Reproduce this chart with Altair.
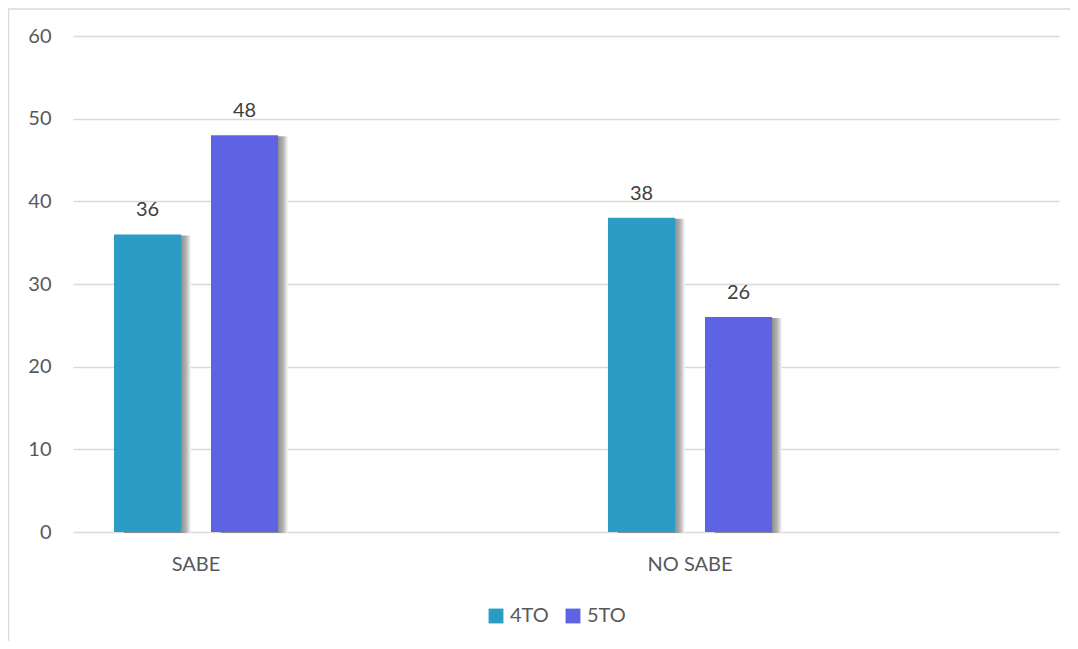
import altair as alt
import pandas as pd

categories = ["SABE", "NO SABE"]
series = ["4TO", "5TO"]
values_4to = [36, 38]
values_5to = [48, 26]
colors = ["#2B9CC4", "#5E63E3"]

rows = []
for i, c in enumerate(categories):
    rows.append({"cat": c, "serie": "4TO", "val": values_4to[i]})
    rows.append({"cat": c, "serie": "5TO", "val": values_5to[i]})
df = pd.DataFrame(rows)

FONT = "Lato"
W, H = 986, 496

x_enc = alt.X("cat:N", sort=categories, title=None,
              scale=alt.Scale(type="band", paddingInner=0.502, paddingOuter=0.249, align=0),
              axis=alt.Axis(labelAngle=0, ticks=False, domain=False, labelPadding=22,
                            labelFont=FONT, labelFontSize=20, labelColor="#595959"))
xo_enc = alt.XOffset("serie:N", sort=series,
                     scale=alt.Scale(type="band", paddingInner=0.309, paddingOuter=0.4225))
xo_shadow = alt.XOffset("serie:N", sort=series,
                        scale=alt.Scale(type="band", paddingInner=0.309, paddingOuter=0.4225,
                                        align=0.62))
y_enc = alt.Y("val:Q", title=None,
              scale=alt.Scale(domain=[0, 60], nice=False),
              axis=alt.Axis(values=[0, 10, 20, 30, 40, 50, 60], ticks=False, domain=False,
                            gridColor="#D9D9D9", gridWidth=1.3, labelPadding=22,
                            labelFont=FONT, labelFontSize=20, labelColor="#595959"))

base = alt.Chart(df)

shadow = base.mark_bar(
    yOffset=1,
    fill=alt.Gradient(gradient="linear", x1=0, x2=1, y1=0, y2=0,
                      stops=[alt.GradientStop(offset=0, color="#8c8c8c"),
                             alt.GradientStop(offset=0.85, color="#8c8c8c"),
                             alt.GradientStop(offset=0.93, color="#b4b4b4"),
                             alt.GradientStop(offset=1, color="#f8f8f8")]),
).encode(x=x_enc, xOffset=xo_shadow, y=y_enc)

bars = base.mark_bar().encode(
    x=x_enc, xOffset=xo_enc, y=y_enc,
    color=alt.Color("serie:N", sort=series,
                    scale=alt.Scale(domain=series, range=colors),
                    legend=alt.Legend(title=None, orient="none", direction="horizontal",
                                      legendX=413, legendY=570,
                                      symbolType="square", symbolSize=220,
                                      symbolStrokeWidth=0, symbolOpacity=1,
                                      labelFont=FONT, labelFontSize=20, labelColor="#595959",
                                      columnPadding=14, labelOffset=4)),
)

labels = base.mark_text(font=FONT, fontSize=20, color="#404040",
                        baseline="alphabetic", dy=-18).encode(
    x=x_enc, xOffset=xo_enc, y=y_enc, text="val:Q")

frame = alt.Chart(pd.DataFrame({"k": [0]})).mark_rect(
    fill=None, stroke="#D9D9D9", strokeWidth=1.5
).encode(x=alt.value(-64.5), x2=alt.value(1004), y=alt.value(-27), y2=alt.value(640))

chart = alt.layer(frame, shadow, bars, labels).resolve_scale(
    xOffset="independent"
).properties(
    width=W, height=H,
    autosize=alt.AutoSizeParams(type="none"),
    padding={"left": 65, "top": 28, "right": 11, "bottom": 109},
).configure(background="white").configure_view(stroke=None)

chart.save("out.html", embed_options={"renderer": "svg", "actions": False})
